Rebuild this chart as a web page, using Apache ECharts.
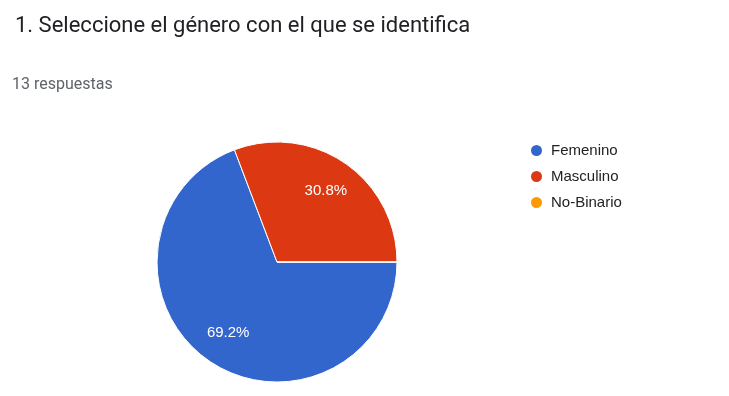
<!DOCTYPE html>
<html>
<head>
<meta charset="utf-8">
<script src="https://cdn.jsdelivr.net/npm/echarts@6/dist/echarts.min.js"></script>
<style>
  html, body { margin: 0; padding: 0; background: #ffffff; }
  #chart { width: 729px; height: 396px; }
</style>
</head>
<body>
<div id="chart"></div>
<script>
// Survey question and response count
const questionTitle = '1. Seleccione el género con el que se identifica';
const responseCount = '13 respuestas';

// Answer options and how many respondents picked each one
const categories = ['Femenino', 'Masculino', 'No-Binario'];
const counts = [9, 4, 0];
const colors = ['#3366cc', '#dc3912', '#ff9900'];

const pieData = categories.map((name, i) => ({
  name: name,
  value: counts[i],
  itemStyle: { color: colors[i] }
}));

const center = [277, 262];
const radius = 120;

const chart = echarts.init(document.getElementById('chart'), null, { renderer: 'canvas' });

chart.setOption({
  backgroundColor: '#ffffff',
  animation: false,
  title: [
    {
      text: questionTitle,
      left: 10,
      top: 10,
      textStyle: { fontFamily: 'Roboto', fontSize: 22, fontWeight: 'normal', color: '#202124' }
    },
    {
      text: responseCount,
      left: 7,
      top: 72,
      textStyle: { fontFamily: 'Roboto', fontSize: 16, fontWeight: 'normal', color: '#5f6368' }
    }
  ],
  legend: {
    orient: 'vertical',
    left: 524,
    top: 138,
    itemWidth: 13,
    itemHeight: 13,
    itemGap: 11,
    icon: 'circle',
    data: categories,
    textStyle: { fontFamily: 'Arial', fontSize: 15, color: '#222222', padding: [0, 0, 0, 3] }
  },
  series: [
    {
      name: 'Género',
      type: 'pie',
      center: center,
      radius: [0, radius],
      startAngle: 0,
      clockwise: true,
      percentPrecision: 1,
      itemStyle: { borderColor: '#ffffff', borderWidth: 1 },
      label: { show: false },
      labelLine: { show: false },
      emphasis: { disabled: true },
      data: pieData
    },
    {
      // label-only ring so the percentages sit further out than mid-radius
      name: 'Etiquetas',
      type: 'pie',
      center: center,
      radius: [46, radius],
      startAngle: 0,
      clockwise: true,
      percentPrecision: 1,
      silent: true,
      itemStyle: { color: 'rgba(0,0,0,0)' },
      label: {
        show: true,
        position: 'inside',
        fontFamily: 'Arial',
        fontSize: 15,
        color: '#ffffff',
        formatter: (p) => (p.value > 0 ? p.percent.toFixed(1) + '%' : '')
      },
      labelLine: { show: false },
      emphasis: { disabled: true },
      data: categories.map((name, i) => ({ name: name, value: counts[i] }))
    }
  ]
});
</script>
</body>
</html>
